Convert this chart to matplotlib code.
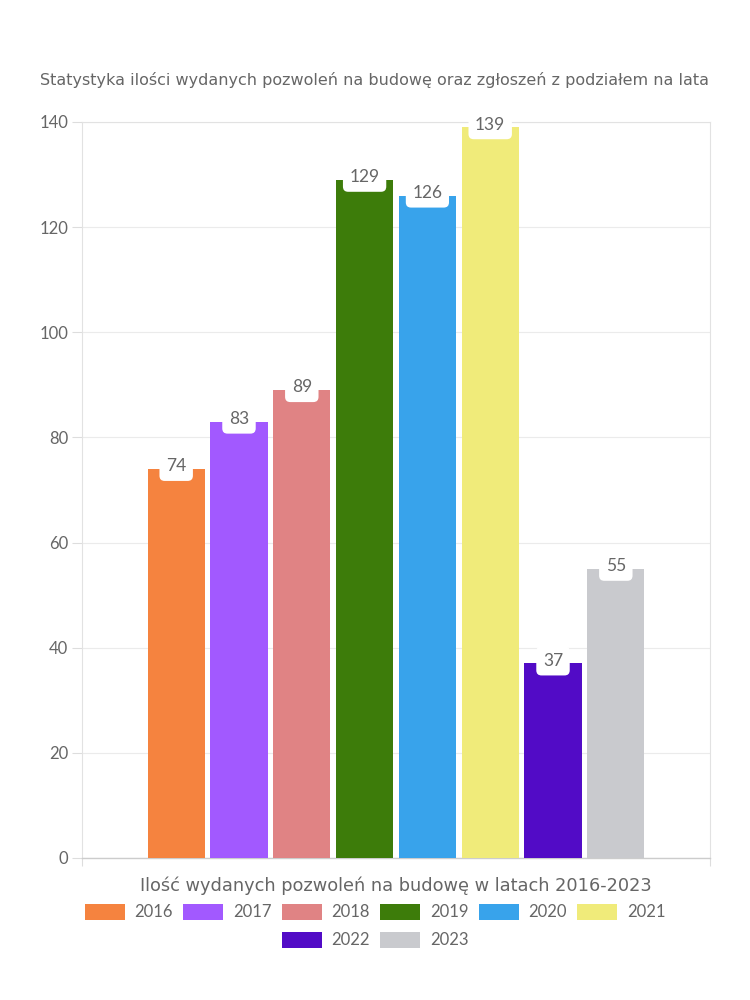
import matplotlib
matplotlib.use("Agg")
import matplotlib.pyplot as plt
from matplotlib.patches import Patch
import numpy as np

years = ["2016", "2017", "2018", "2019", "2020", "2021", "2022", "2023"]
values = [74, 83, 89, 129, 126, 139, 37, 55]
colors = ["#F5833F", "#A259FF", "#E08384", "#3D7C0A", "#38A3EB", "#F0EB7A", "#520BC6", "#C9CACE"]
title = "Statystyka ilości wydanych pozwoleń na budowę oraz zgłoszeń z podziałem na lata"
xlabel = "Ilość wydanych pozwoleń na budowę w latach 2016-2023"
yticks = [0, 20, 40, 60, 80, 100, 120, 140]

plt.rcParams['font.family'] = ['Lato', 'DejaVu Sans']
txt = "#666666"

fig = plt.figure(figsize=(7.5, 10), dpi=100)
ax = fig.add_axes([0.1093, 0.142, 0.8374, 0.736])

step = 1.1
pos = (np.arange(len(values)) - 3.5) * step
bars = ax.bar(pos, values, width=1.0, color=colors, zorder=3)

for x, v in zip(pos, values):
    ax.text(x, v + 0.5, str(v), ha='center', va='center', fontsize=12.5, color=txt, zorder=4,
            bbox=dict(boxstyle='round,pad=0.38,rounding_size=0.3', fc='white', ec='none'))

ax.set_xlim(-5.5, 5.5)
ax.set_ylim(0, 140)
ax.set_yticks(yticks)
ax.set_xticks([-5.5, 5.5])
ax.set_xticklabels(["", ""])
ax.tick_params(axis='y', length=7, color='#dddddd', labelsize=12, labelcolor=txt, pad=3)
ax.tick_params(axis='x', length=6, color='#dddddd')
ax.grid(axis='y', color='#ebebeb', linewidth=0.8, zorder=0)
for s in ['left', 'right', 'top']:
    ax.spines[s].set_color('#e2e2e2')
    ax.spines[s].set_linewidth(0.8)
ax.spines['bottom'].set_color('#cccccc')
ax.spines['bottom'].set_linewidth(1.0)

ax.set_xlabel(xlabel, fontsize=12.8, color=txt, labelpad=4, family=['DejaVu Sans'])
fig.text(0.5, 0.92, title, ha='center', va='center', fontsize=11.5, color=txt, family=['DejaVu Sans'])

handles = [Patch(facecolor=c, edgecolor='none') for c in colors]
kw = dict(loc='center', frameon=False, fontsize=12, handlelength=2.4, handleheight=1.1,
          handletextpad=0.6, columnspacing=0.6, labelcolor=txt)
leg1 = fig.legend(handles[:6], years[:6], bbox_to_anchor=(0.5, 0.088), ncol=6, **kw)
leg2 = fig.legend(handles[6:], years[6:], bbox_to_anchor=(0.5, 0.06), ncol=2, **kw)

fig.savefig("out.png", dpi=100, facecolor='white')
